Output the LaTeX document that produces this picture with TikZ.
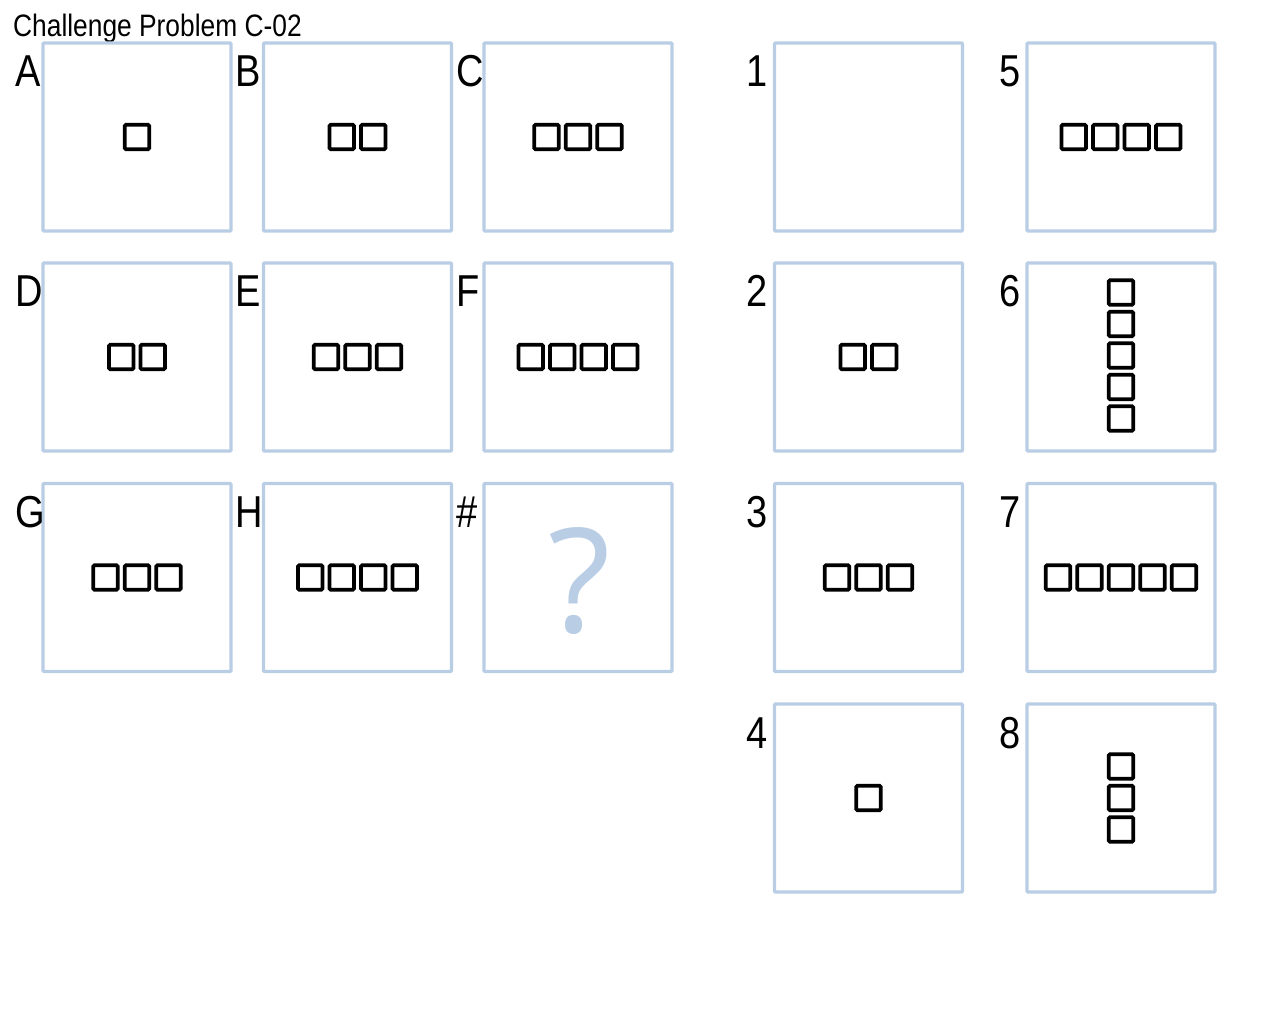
\documentclass[tikz,border=0pt]{standalone}
\usepackage{fontspec}
\setmainfont[FakeStretch=0.85]{Liberation Sans}
\newfontfamily\qfont{Open Sans}
\definecolor{frame}{RGB}{185,205,229}
\newcommand\rowsq[4]{\foreach \i in {1,...,#4}{\node[sq] (#1-\i) at ({#2+(\i-(#4+1)/2)*31.5},#3) {};}}
\newcommand\colsq[4]{\foreach \i in {1,...,#4}{\node[sq] (#1-\i) at (#2,{#3+(\i-(#4+1)/2)*31.5}) {};}}
\begin{document}
\begin{tikzpicture}[x=1pt,y=-1pt,
  panel/.style={draw=frame, line width=3.4pt, minimum size=188pt, inner sep=0pt, rounded corners=1pt},
  sq/.style={draw=black, line width=3.6pt, minimum size=24.5pt, inner sep=0pt, rounded corners=1.2pt},
  lab/.style={font=\fontsize{44.7}{44.7}\selectfont, anchor=base west, inner sep=0pt},
  ttl/.style={font=\fontsize{31}{31}\selectfont, anchor=base west, inner sep=0pt}]
\useasboundingbox (0,0) rectangle (1280,1024);
\node[ttl] (title) at (13,37) {Challenge Problem C-02};
% left grid
\foreach \n/\t/\x/\y in {A/A/137/137, B/B/357.5/137, C/C/578/137,
  D/D/137/357, E/E/357.5/357, F/F/578/357,
  G/G/137/577.5, H/H/357.5/577.5, Q/\#/578/577.5,
  P1/1/868.5/137, P2/2/868.5/357, P3/3/868.5/577.5, P4/4/868.5/798,
  P5/5/1121/137, P6/6/1121/357, P7/7/1121/577.5, P8/8/1121/798}{
  \node[panel] (\n) at (\x,\y) {};
  \node[lab] (\n-lab) at (\x-122,\y-50) {\t};
}
\rowsq{A}{137}{137}{1}
\rowsq{B}{357.5}{137}{2}
\rowsq{C}{578}{137}{3}
\rowsq{D}{137}{357}{2}
\rowsq{E}{357.5}{357}{3}
\rowsq{F}{578}{357}{4}
\rowsq{G}{137}{577.5}{3}
\rowsq{H}{357.5}{577.5}{4}
\node[font=\qfont\fontsize{145}{145}\selectfont, text=frame, inner sep=0pt] (qmark) at (579.5,581.5) {?};
\rowsq{P2}{868.5}{357}{2}
\rowsq{P3}{868.5}{577.5}{3}
\rowsq{P4}{868.5}{798}{1}
\rowsq{P5}{1121}{137}{4}
\colsq{P6}{1121}{355.5}{5}
\rowsq{P7}{1121}{577.5}{5}
\colsq{P8}{1121}{798}{3}
\end{tikzpicture}
\end{document}
